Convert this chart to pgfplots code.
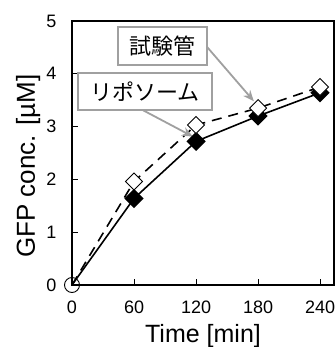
\documentclass[border=0pt]{standalone}
\usepackage{pgfplots}
\pgfplotsset{compat=1.18}
\usepackage{fontspec}
\setmainfont{Liberation Sans}
\newfontfamily\jp{Noto Sans CJK JP}
\usetikzlibrary{arrows.meta,calc}
\definecolor{boxgray}{HTML}{A0A0A0}
\begin{document}
\begin{tikzpicture}
\begin{axis}[
  scale only axis,
  width=262pt, height=264pt,
  xmin=0, xmax=253.5, ymin=0, ymax=5,
  xtick={0,60,120,180,240},
  ytick={0,1,2,3,4,5},
  tick pos=left,
  tick align=inside,
  major tick length=6pt,
  axis line style={line width=1.4pt},
  every tick/.style={black, line width=1pt},
  /pgf/number format/assume math mode=true,
  tick label style={font=\fontsize{18}{21}\selectfont},
  xticklabel style={yshift=-12pt},
  yticklabel style={xshift=-12pt},
  xlabel={Time [min]},
  ylabel={GFP conc. [µM]},
  every axis x label/.style={at={(axis description cs:0.5,0)}, anchor=base, yshift=-57pt, font=\fontsize{25}{30}\selectfont},
  every axis y label/.style={at={(axis cs:-35.8,2.254)}, anchor=base, rotate=90, font=\fontsize{26}{30}\selectfont},
  clip=false,
]
\addplot[black, line width=1.6pt, mark=square*, mark indices={2,3,4,5},
  mark size=6pt, mark options={rotate=45, solid, fill=black}]
  coordinates {(0,0) (60,1.64) (120,2.72) (180,3.20) (240,3.64)};
\addplot[black, line width=1.6pt, dash pattern=on 10pt off 7pt, mark=square*, mark indices={2,3,4,5},
  mark size=6pt, mark options={rotate=45, solid, fill=white, line width=0.9pt}]
  coordinates {(0,0) (60,1.96) (120,3.03) (180,3.35) (240,3.75)};
\addplot[only marks, mark=o, mark size=7.5pt, mark options={line width=0.9pt}, black]
  coordinates {(0,0)};
\draw[boxgray, line width=1.8pt, -{Stealth[length=11pt,width=9pt]}]
  (axis cs:130.6,4.51) -- (axis cs:176,3.48);
\draw[boxgray, line width=1.8pt, -{Stealth[length=11pt,width=9pt]}]
  (axis cs:68.7,3.31) -- (axis cs:117,2.81);
\node[draw=boxgray, line width=1.8pt, fill=white, minimum width=89pt, minimum height=38pt, inner sep=0pt,
  font=\jp\fontsize{22}{24}\selectfont] at (axis cs:87.6,4.53) {試験管};
\node[draw=boxgray, line width=1.8pt, fill=white, minimum width=134pt, minimum height=37pt, inner sep=0pt,
  font=\jp\fontsize{22}{24}\selectfont] at (axis cs:70.6,3.66) {リポソーム};
\end{axis}
\pgfresetboundingbox
\path ($(current axis.south west)+(-72pt,-62pt)$) rectangle ($(current axis.north east)+(2pt,21pt)$);
\end{tikzpicture}
\end{document}
